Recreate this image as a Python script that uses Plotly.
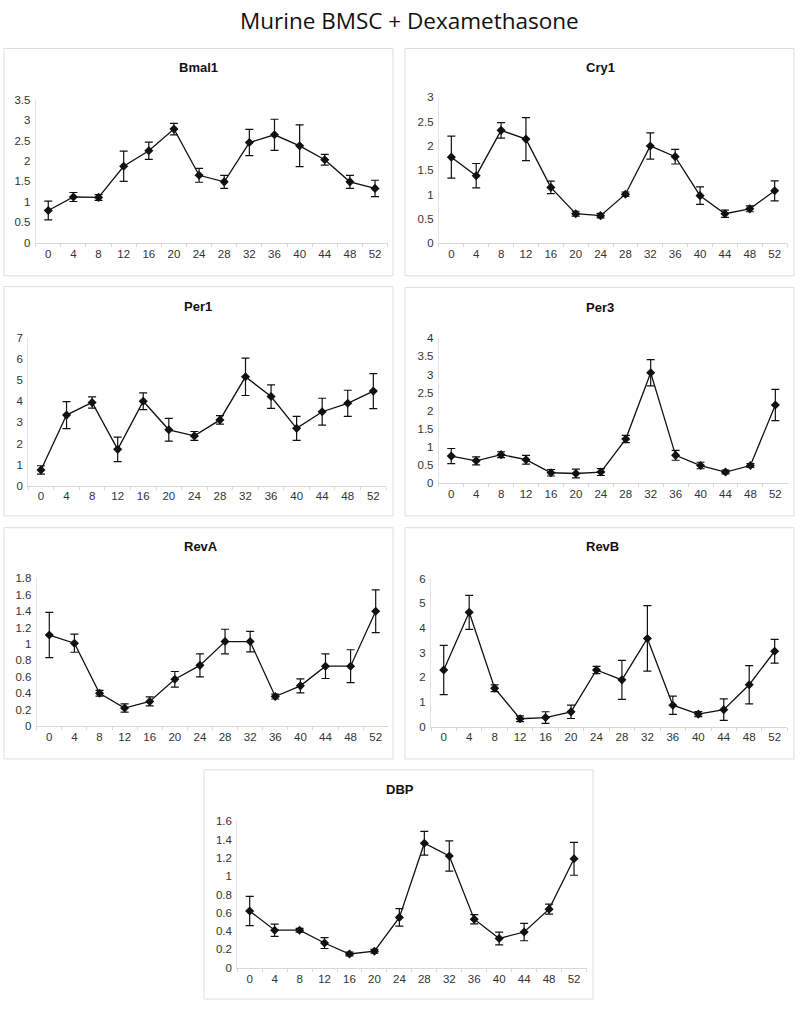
import plotly.graph_objects as go

hours = ["0", "4", "8", "12", "16", "20", "24", "28", "32", "36", "40", "44", "48", "52"]

bmal1 = [0.79, 1.12, 1.11, 1.87, 2.25, 2.78, 1.65, 1.49, 2.45, 2.64, 2.37, 2.03, 1.49, 1.33]
bmal1_err = [0.23, 0.11, 0.07, 0.37, 0.21, 0.14, 0.17, 0.16, 0.32, 0.38, 0.51, 0.13, 0.16, 0.20]

cry1 = [1.77, 1.39, 2.32, 2.14, 1.15, 0.61, 0.57, 1.01, 2.00, 1.78, 0.98, 0.61, 0.71, 1.08]
cry1_err = [0.43, 0.25, 0.16, 0.44, 0.13, 0.05, 0.045, 0.045, 0.27, 0.15, 0.18, 0.075, 0.06, 0.205]

per1 = [0.74, 3.35, 3.95, 1.72, 4.01, 2.65, 2.36, 3.12, 5.17, 4.23, 2.72, 3.51, 3.91, 4.49]
per1_err = [0.20, 0.64, 0.27, 0.58, 0.40, 0.54, 0.21, 0.20, 0.89, 0.56, 0.57, 0.64, 0.62, 0.83]

per3 = [0.75, 0.62, 0.79, 0.65, 0.29, 0.27, 0.31, 1.22, 3.05, 0.77, 0.49, 0.31, 0.49, 2.16]
per3_err = [0.21, 0.11, 0.08, 0.12, 0.09, 0.12, 0.095, 0.10, 0.36, 0.135, 0.09, 0.05, 0.055, 0.43]

reva = [1.11, 1.01, 0.40, 0.22, 0.30, 0.57, 0.74, 1.03, 1.03, 0.36, 0.49, 0.73, 0.73, 1.40]
reva_err = [0.275, 0.11, 0.035, 0.05, 0.055, 0.095, 0.14, 0.15, 0.125, 0.03, 0.085, 0.15, 0.20, 0.26]

revb = [2.30, 4.64, 1.56, 0.32, 0.37, 0.60, 2.30, 1.90, 3.58, 0.87, 0.51, 0.69, 1.70, 3.06]
revb_err = [1.00, 0.69, 0.135, 0.115, 0.235, 0.27, 0.145, 0.79, 1.33, 0.37, 0.10, 0.435, 0.775, 0.485]

dbp = [0.62, 0.41, 0.41, 0.27, 0.15, 0.18, 0.55, 1.36, 1.22, 0.53, 0.32, 0.39, 0.64, 1.19]
dbp_err = [0.16, 0.067, 0.02, 0.06, 0.02, 0.02, 0.095, 0.13, 0.165, 0.05, 0.07, 0.095, 0.055, 0.18]

W, H = 800, 1011

panels = [
    # name, values, errors, plot box in page px (x0,x1,y0,y1), y max, dtick, title pos, border box
    ("Bmal1", bmal1, bmal1_err, (35.7, 387.6, 94.7, 239.7), 3.5, 0.5, (198, 62), (4, 393, 43, 273)),
    ("Cry1", cry1, cry1_err, (438.9, 787.1, 92.3, 240.3), 3.0, 0.5, (600, 62), (405, 794, 43, 273)),
    ("Per1", per1, per1_err, (28.2, 386.1, 336.3, 485.3), 7.0, 1.0, (198, 304), (4, 393, 284, 516)),
    ("Per3", per3, per3_err, (438.8, 787.8, 336.3, 483.0), 4.0, 0.5, (600, 305), (405, 794, 285, 516)),
    ("RevA", reva, reva_err, (36.75, 388.25, 579.3, 728.7), 1.8, 0.2, (201, 547), (4, 393, 528, 762)),
    ("RevB", revb, revb_err, (431.0, 787.4, 579.7, 729.3), 6.0, 1.0, (602, 547), (405, 794, 528, 762)),
    ("DBP", dbp, dbp_err, (237.2, 586.5, 825.0, 973.3), 1.6, 0.2, (400, 793), (204, 593, 773, 1005)),
]


def px(x):
    return x / W


def py(y):
    return 1 - y / H


fig = go.Figure()
layout = {}
annotations = []
shapes = []
tickfont = dict(family="Liberation Sans, Arial, sans-serif", size=11.5, color="#333333")

for i, (name, vals, errs, box, ymax, dt, tpos, border) in enumerate(panels):
    k = "" if i == 0 else str(i + 1)
    x0, x1, y0, y1 = box
    fig.add_trace(go.Scatter(
        x=hours, y=vals,
        error_y=dict(type="data", array=errs, visible=True, color="#111111", thickness=1.2, width=4),
        mode="lines+markers",
        line=dict(color="#111111", width=1.3),
        marker=dict(symbol="diamond", size=7, color="#111111"),
        xaxis="x" + k, yaxis="y" + k, showlegend=False,
    ))
    layout["xaxis" + k] = dict(
        domain=[px(x0), px(x1)], anchor="y" + k, type="category",
        range=[-0.5, 13.5], showgrid=False, zeroline=False,
        showline=True, linecolor="#d8d8d8", linewidth=1,
        ticks="outside", tickson="boundaries", ticklen=3, tickcolor="#d8d8d8",
        tickfont=tickfont, fixedrange=True,
    )
    layout["yaxis" + k] = dict(
        domain=[py(y1), py(y0)], anchor="x" + k,
        range=[0, ymax], dtick=dt, tick0=0, showgrid=False, zeroline=False,
        showline=True, linecolor="#e4e4e4", linewidth=1, ticks="",
        tickfont=tickfont, ticklabelstandoff=2, fixedrange=True,
    )
    annotations.append(dict(
        text="<b>%s</b>" % name, x=px(tpos[0]), y=py(tpos[1]),
        xref="paper", yref="paper", showarrow=False, xanchor="center", yanchor="middle",
        font=dict(family="Liberation Sans, Arial, sans-serif", size=13, color="#111111"),
    ))
    bx0, bx1, by0, by1 = border
    shapes.append(dict(
        type="rect", xref="paper", yref="paper",
        x0=px(bx0), x1=px(bx1), y0=py(by1), y1=py(by0),
        line=dict(color="#dddddd", width=1), layer="below",
    ))

annotations.append(dict(
    text="Murine BMSC + Dexamethasone", x=px(410), y=py(15),
    xref="paper", yref="paper", showarrow=False, xanchor="center", yanchor="middle",
    font=dict(family="Open Sans, Noto Sans, sans-serif", size=22.5, color="#111111"),
))

fig.update_layout(
    width=W, height=H, margin=dict(l=0, r=0, t=0, b=0),
    paper_bgcolor="white", plot_bgcolor="white", hovermode=False,
    annotations=annotations, shapes=shapes, **layout,
)

fig.write_html(
    "out.html",
    config={"displayModeBar": False, "staticPlot": True},
    post_script="document.body.style.margin='0';",
)
